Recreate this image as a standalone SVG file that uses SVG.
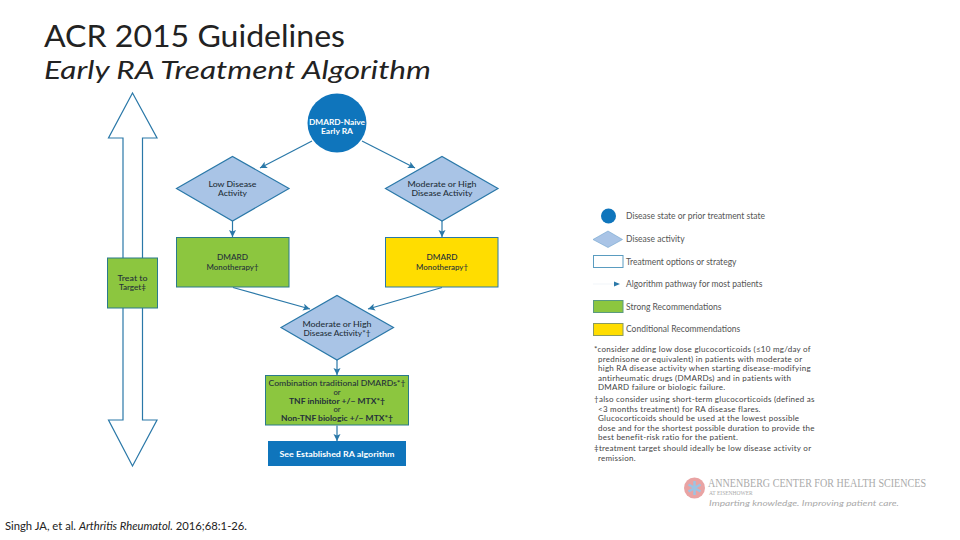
<svg xmlns="http://www.w3.org/2000/svg" width="960" height="540" viewBox="0 0 960 540">
<style>
text{font-family:"Lato","Open Sans",sans-serif}
.n{font-size:8px;fill:#24303a;text-anchor:middle;font-weight:500}
.w{fill:#fff;font-weight:700}
.t{font-size:7.600px}
.b{font-weight:700}
.d{fill:#a9c4e6;stroke:#2a78a8;stroke-width:1.2}
.g{fill:#8cc63f;stroke:#2a7a8c;stroke-width:1}
.y{fill:#ffdd00;stroke:#2a78a8;stroke-width:1}
.c{fill:none;stroke:#2a78a8;stroke-width:1.2;marker-end:url(#a)}
.o{fill:#fff;stroke:#2a78a8;stroke-width:1.2}
.l{font-size:8.5px;fill:#555}
.f{font-size:8px;fill:#444;letter-spacing:.26px}
</style>
<defs>
<marker id="a" markerWidth="8" markerHeight="8" refX="7" refY="4" orient="auto" markerUnits="userSpaceOnUse"><path d="M0 0.5L7 4L0 7.5L1.6 4Z" fill="#2a78a8"/></marker>
</defs>
<rect width="960" height="540" fill="#fff"/>
<g id="title">
<text x="44" y="47" font-size="31" fill="#222" textLength="301" lengthAdjust="spacingAndGlyphs">ACR 2015 Guidelines</text>
<text x="44" y="79" font-size="25.500" font-style="italic" fill="#222" textLength="387" lengthAdjust="spacingAndGlyphs">Early RA Treatment Algorithm</text>
</g>
<g id="connectors">
<path class="c" d="M312 141L260 168"/>
<path class="c" d="M362 141L415 168"/>
<path class="c" d="M232.500 221V237"/>
<path class="c" d="M442 221V237"/>
<path class="c" d="M233 287.500L310 309"/>
<path class="c" d="M442 287.500L368 309"/>
<path class="c" d="M337 360V375"/>
<path class="c" d="M337 425.500V441"/>
</g>
<g id="treat-arrow">
<path class="o" d="M123 258V138H108.500L132.500 93L157 138H142.500V258"/>
<path class="o" d="M123 307V420H108.500L132.500 466L157 420H142.500V307"/>
</g>
<g id="treat-to-target">
<rect class="g" x="107.500" y="258" width="50" height="50"/>
<text class="n" x="132.500" y="281" textLength="30" lengthAdjust="spacingAndGlyphs">Treat to</text><text class="n" x="132.500" y="290" textLength="27" lengthAdjust="spacingAndGlyphs">Target‡</text>
</g>
<g id="start">
<circle cx="337" cy="123" r="29.500" fill="#0f75bc"/>
<text class="n w" x="337" y="125" textLength="56" lengthAdjust="spacingAndGlyphs">DMARD-Naive</text><text class="n w" x="337" y="134" textLength="32" lengthAdjust="spacingAndGlyphs">Early RA</text>
</g>
<g id="low">
<path class="d" d="M176.500 188.500L232.500 156.500L289 188.500L232.500 221Z"/>
<text class="n" x="232.500" y="187" textLength="48" lengthAdjust="spacingAndGlyphs">Low Disease</text><text class="n" x="232.500" y="196" textLength="29" lengthAdjust="spacingAndGlyphs">Activity</text>
</g>
<g id="high">
<path class="d" d="M385.500 188.500L442 156.500L498 188.500L442 221Z"/>
<text class="n" x="442" y="187" textLength="69" lengthAdjust="spacingAndGlyphs">Moderate or High</text><text class="n" x="442" y="196" textLength="61" lengthAdjust="spacingAndGlyphs">Disease Activity</text>
</g>
<g id="mono-green">
<rect class="g" x="176.500" y="237.500" width="112.500" height="49.500"/>
<text class="n" x="232.500" y="260" textLength="31" lengthAdjust="spacingAndGlyphs">DMARD</text><text class="n" x="232.500" y="270" textLength="52" lengthAdjust="spacingAndGlyphs">Monotherapy†</text>
</g>
<g id="mono-yellow">
<rect class="y" x="385.500" y="237.500" width="112.500" height="49.500"/>
<text class="n" x="442" y="260" textLength="31" lengthAdjust="spacingAndGlyphs">DMARD</text><text class="n" x="442" y="270" textLength="52" lengthAdjust="spacingAndGlyphs">Monotherapy†</text>
</g>
<g id="mid">
<path class="d" d="M281 327.500L337 295.500L393.500 327.500L337 360Z"/>
<text class="n" x="337" y="326.500" textLength="69" lengthAdjust="spacingAndGlyphs">Moderate or High</text><text class="n" x="337" y="335.500" textLength="67" lengthAdjust="spacingAndGlyphs">Disease Activity*†</text>
</g>
<g id="combo">
<rect class="g" x="265.500" y="375.500" width="143" height="49.500"/>
<text class="n t" x="337" y="386" textLength="137" lengthAdjust="spacingAndGlyphs">Combination traditional DMARDs*†</text>
<text class="n t" x="337" y="395">or</text>
<text class="n t b" x="337" y="403.500" textLength="96" lengthAdjust="spacingAndGlyphs">TNF inhibitor +/− MTX*†</text>
<text class="n t" x="337" y="412">or</text>
<text class="n t b" x="337" y="420.500" textLength="112" lengthAdjust="spacingAndGlyphs">Non-TNF biologic +/− MTX*†</text>
</g>
<g id="established">
<rect x="268" y="441" width="138" height="25" fill="#0f75bc"/>
<text class="n w" x="337" y="456.500" textLength="115" lengthAdjust="spacingAndGlyphs">See Established RA algorithm</text>
</g>
<g id="legend">
<circle cx="608.500" cy="216" r="7.500" fill="#0f75bc"/>
<path d="M593 239.500L608 231L622.500 239.500L608 247.500Z" fill="#a9c4e6" stroke="#6fa3cc" stroke-width=".6"/>
<rect x="593.500" y="255.500" width="29.500" height="12" fill="#fff" stroke="#5a9cc0"/>
<path d="M593 284H615" stroke="#eef3f7" stroke-width=".8"/><path d="M614 281.500L620 284L614 286.500Z" fill="#2a78a8"/>
<rect x="593.500" y="300.500" width="29.500" height="12" fill="#8cc63f" stroke="#5a9a80"/>
<rect x="593.500" y="323.500" width="29.500" height="12" fill="#ffdd00" stroke="#8a9a60"/>
<text class="l" x="626" y="219">Disease state or prior treatment state</text>
<text class="l" x="626" y="242">Disease activity</text>
<text class="l" x="626" y="264.500">Treatment options or strategy</text>
<text class="l" x="626" y="287">Algorithm pathway for most patients</text>
<text class="l" x="626" y="310">Strong Recommendations</text>
<text class="l" x="626" y="332">Conditional Recommendations</text>
</g>
<g id="footnotes">
<text class="f" x="594" y="352">*consider adding low dose glucocorticoids (≤10 mg/day of</text>
<text class="f" x="598" y="361.500">prednisone or equivalent) in patients with moderate or</text>
<text class="f" x="598" y="371">high RA disease activity when starting disease-modifying</text>
<text class="f" x="598" y="380.500">antirheumatic drugs (DMARDs) and in patients with</text>
<text class="f" x="598" y="390">DMARD failure or biologic failure.</text>
<text class="f" x="594" y="402">†also consider using short-term glucocorticoids (defined as</text>
<text class="f" x="598" y="411.500">&lt;3 months treatment) for RA disease flares.</text>
<text class="f" x="598" y="421">Glucocorticoids should be used at the lowest possible</text>
<text class="f" x="598" y="430.500">dose and for the shortest possible duration to provide the</text>
<text class="f" x="598" y="440">best benefit-risk ratio for the patient.</text>
<text class="f" x="594" y="451">‡treatment target should ideally be low disease activity or</text>
<text class="f" x="598" y="460.500">remission.</text>
</g>
<g id="logo">
<circle cx="694.500" cy="488" r="10.500" fill="#e9a3a3"/>
<path d="M694.500 481V495M688.500 484.500L700.500 491.500M700.500 484.500L688.500 491.500" stroke="#9cc4e4" stroke-width="2.500"/>
<text x="708" y="487" font-size="11.500" fill="#aaa" style="font-family:'Liberation Serif',serif" textLength="218" lengthAdjust="spacingAndGlyphs">ANNENBERG CENTER FOR HEALTH SCIENCES</text>
<text x="709" y="495" font-size="5.500" fill="#aaa" style="font-family:'Liberation Serif',serif">AT EISENHOWER</text>
<text x="709" y="506" font-size="8.500" font-style="italic" fill="#aaa" textLength="190" lengthAdjust="spacingAndGlyphs">Imparting knowledge. Improving patient care.</text>
</g>
<g id="citation">
<text x="5" y="530" font-size="11" fill="#222" textLength="242" lengthAdjust="spacingAndGlyphs">Singh JA, et al. <tspan font-style="italic">Arthritis Rheumatol.</tspan> 2016;68:1-26.</text>
</g>
</svg>
